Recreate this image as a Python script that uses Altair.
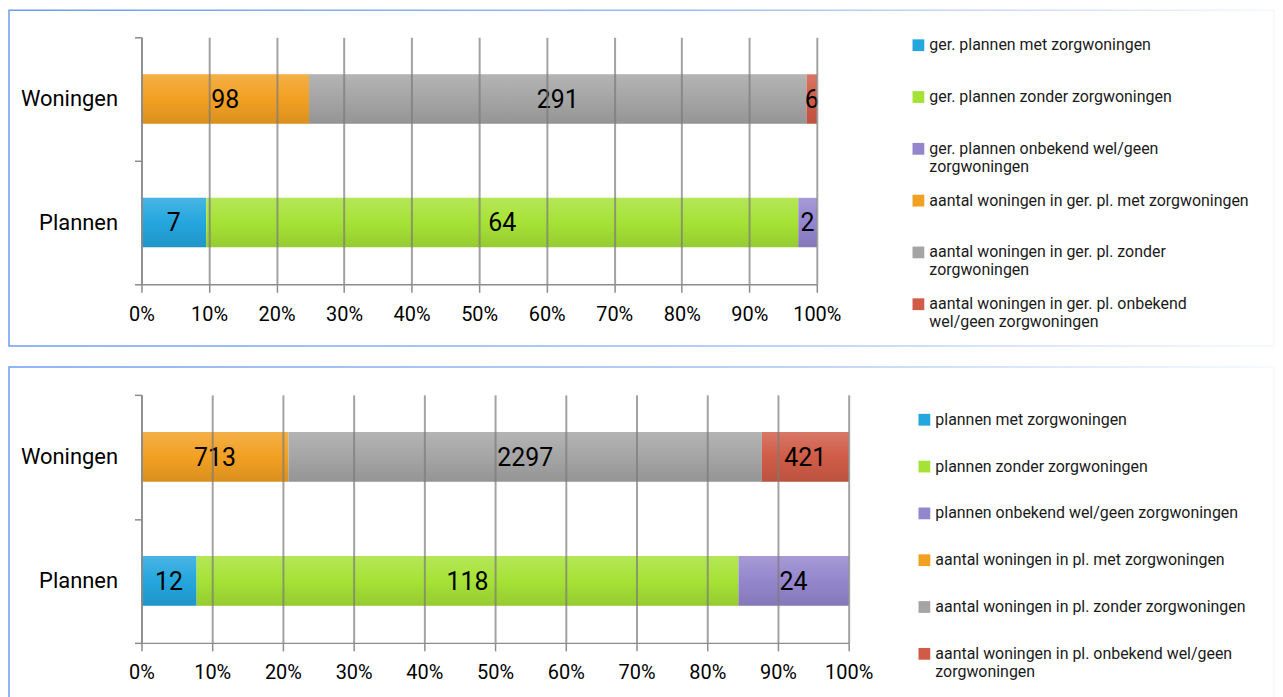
import altair as alt
import pandas as pd

categories = ["Woningen", "Plannen"]

top_series = [
    "ger. plannen met zorgwoningen",
    "ger. plannen zonder zorgwoningen",
    "ger. plannen onbekend wel/geen zorgwoningen",
    "aantal woningen in ger. pl. met zorgwoningen",
    "aantal woningen in ger. pl. zonder zorgwoningen",
    "aantal woningen in ger. pl. onbekend wel/geen zorgwoningen",
]
top_cats = ["Plannen", "Plannen", "Plannen", "Woningen", "Woningen", "Woningen"]
top_values = [7, 64, 2, 98, 291, 6]
top_wraps = {
    "ger. plannen onbekend wel/geen zorgwoningen": ["ger. plannen onbekend wel/geen", "zorgwoningen"],
    "aantal woningen in ger. pl. zonder zorgwoningen": ["aantal woningen in ger. pl. zonder", "zorgwoningen"],
    "aantal woningen in ger. pl. onbekend wel/geen zorgwoningen": ["aantal woningen in ger. pl. onbekend", "wel/geen zorgwoningen"],
}

bottom_series = [
    "plannen met zorgwoningen",
    "plannen zonder zorgwoningen",
    "plannen onbekend wel/geen zorgwoningen",
    "aantal woningen in pl. met zorgwoningen",
    "aantal woningen in pl. zonder zorgwoningen",
    "aantal woningen in pl. onbekend wel/geen zorgwoningen",
]
bottom_cats = ["Plannen", "Plannen", "Plannen", "Woningen", "Woningen", "Woningen"]
bottom_values = [12, 118, 24, 713, 2297, 421]
bottom_wraps = {
    "aantal woningen in pl. onbekend wel/geen zorgwoningen": ["aantal woningen in pl. onbekend wel/geen", "zorgwoningen"],
}

colors = ["#24a6de", "#a6e236", "#9486cd", "#f2a022", "#a5a5a5", "#d05c47"]
tick_values = [0, 0.1, 0.2, 0.3, 0.4, 0.5, 0.6, 0.7, 0.8, 0.9, 1.0]

FONT = "Roboto"
AXIS_GRAY = "#8c8c8c"
BAR_BAND = 0.4


def label_expr(wraps):
    expr = "datum.label"
    for name, lines in wraps.items():
        arr = "[" + ", ".join("'" + l + "'" for l in lines) + "]"
        expr = "datum.label == '" + name + "' ? " + arr + " : (" + expr + ")"
    return expr


def panel(series, cats, values, wraps, w, h, legend_x, legend_y, row_pad, rect_left, rect_top, rect_bottom):
    df = pd.DataFrame({"cat": cats, "series": series, "value": values,
                       "order": list(range(len(series)))})
    base = alt.Chart(df).transform_stack(
        stack="value", groupby=["cat"], as_=["x0", "x1"], offset="normalize",
        sort=[alt.SortField(field="order", order="ascending")]
    ).transform_calculate(mid="(datum.x0 + datum.x1) / 2")

    y = alt.Y("cat:N", sort=categories, title=None,
              scale=alt.Scale(paddingInner=0, paddingOuter=0),
              axis=alt.Axis(tickBand="extent", tickSize=7, tickColor=AXIS_GRAY, tickWidth=1.5,
                            domainColor=AXIS_GRAY, domainWidth=1.5, labelFont=FONT,
                            labelFontSize=22, labelColor="#000000", labelPadding=17,
                            grid=False, zindex=1))
    x = alt.X("x0:Q", title=None, scale=alt.Scale(domain=[0, 1], nice=False),
              axis=alt.Axis(format="%", values=tick_values, tickSize=8, tickColor=AXIS_GRAY,
                            tickWidth=1.5, domainColor=AXIS_GRAY, domainWidth=1.5,
                            grid=True, gridColor="#7a7a7a", gridOpacity=0.7, gridWidth=2,
                            labelFont=FONT, labelFontSize=20, labelColor="#000000",
                            labelPadding=12, labelFlush=False, zindex=1))

    bars = base.mark_bar(height=alt.RelativeBandSize(BAR_BAND)).encode(
        x=x, x2="x1:Q", y=y,
        color=alt.Color("series:N", scale=alt.Scale(domain=series, range=colors),
                        legend=alt.Legend(title=None, orient="none", legendX=legend_x, legendY=legend_y,
                                          labelExpr=label_expr(wraps), labelFont=FONT,
                                          labelFontSize=16, labelColor="#1a1a1a", labelLimit=600,
                                          symbolType="square", symbolSize=140, symbolStrokeWidth=0,
                                          labelOffset=3, rowPadding=row_pad, gridAlign="all",
                                          padding=0, columns=1)),
    )
    shade = base.mark_bar(height=alt.RelativeBandSize(BAR_BAND), color=alt.Gradient(
        gradient="linear", x1=0, x2=0, y1=0, y2=1,
        stops=[alt.GradientStop(color="rgba(255,255,255,0.17)", offset=0),
               alt.GradientStop(color="rgba(255,255,255,0)", offset=0.5),
               alt.GradientStop(color="rgba(0,0,0,0)", offset=0.5),
               alt.GradientStop(color="rgba(0,0,0,0.1)", offset=1)])).encode(
        x="x0:Q", x2="x1:Q", y=alt.Y("cat:N", sort=categories))
    text = base.mark_text(font=FONT, fontSize=25, color="#000000", dy=1).encode(
        x="mid:Q", y=alt.Y("cat:N", sort=categories), text="value:Q")
    border = alt.Chart(pd.DataFrame({"k": [0]})).mark_rect(
        fillOpacity=0, strokeWidth=1.5,
        stroke=alt.Gradient(gradient="linear", x1=0, x2=1, y1=0, y2=0,
                            stops=[alt.GradientStop(color="#6a9ff0", offset=0),
                                   alt.GradientStop(color="#9dbdf4", offset=0.55),
                                   alt.GradientStop(color="#f4f7ff", offset=1)])
    ).encode(x=alt.value(rect_left), x2=alt.value(1137), y=alt.value(rect_top), y2=alt.value(rect_bottom))

    return alt.layer(bars, shade, text, border).properties(width=w, height=h)


top = panel(top_series, top_cats, top_values, top_wraps, 678, 248, 772, 0, 18, -133, -27, 310)
bottom = panel(bottom_series, bottom_cats, bottom_values, bottom_wraps, 710, 249, 778, 17, 13, -133, -28, 312)

chart = alt.vconcat(top, bottom, spacing=19).resolve_scale(color="independent").properties(
    padding=0).configure_view(strokeOpacity=0)

chart.save("out.html", embed_options={"renderer": "svg", "actions": False})
